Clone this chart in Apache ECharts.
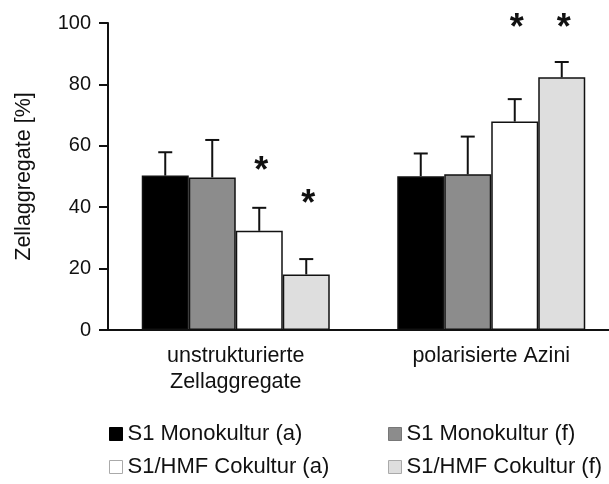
<!DOCTYPE html>
<html>
<head>
<meta charset="utf-8">
<script src="https://cdn.jsdelivr.net/npm/echarts@6/dist/echarts.min.js"></script>
<style>
  html, body { margin: 0; padding: 0; background: #fff; }
  #chart { width: 609px; height: 484px; }
</style>
</head>
<body>
<div id="chart"></div>
<script>
// Categories (x-axis groups)
var categories = ['unstrukturierte\nZellaggregate', 'polarisierte Azini'];

// Series names
var seriesNames = ['S1 Monokultur (a)', 'S1 Monokultur (f)', 'S1/HMF Cokultur (a)', 'S1/HMF Cokultur (f)'];

// Mean values per series (one per category)
var monoA = [50.3, 50.1];
var monoF = [49.7, 50.7];
var cokA  = [32.3, 67.9];
var cokF  = [18.1, 82.3];

// Upper error (value at top of error bar)
var monoAErr = [57.9, 57.5];
var monoFErr = [61.9, 63.0];
var cokAErr  = [39.8, 75.2];
var cokFErr  = [23.1, 87.3];

// Significance marks (height of asterisk, null = none)
var starsCokA = [53.5, 100];
var starsCokF = [42.7, 100];

// Y-axis ticks
var yMin = 0, yMax = 100, yStep = 20;

var fills = ['#000000', '#8c8c8c', '#ffffff', '#dedede'];
var legendBorders = ['#000000', '#777777', '#aaaaaa', '#aaaaaa'];
var means = [monoA, monoF, cokA, cokF];
var errs = [monoAErr, monoFErr, cokAErr, cokFErr];
var stars = [[null, null], [null, null], starsCokA, starsCokF];
var BAR_W = 47;
var FONT = 'Liberation Sans, Arial, sans-serif';

var series = [];
means.forEach(function (vals, i) {
  series.push({
    name: seriesNames[i],
    type: 'bar',
    data: vals,
    barWidth: BAR_W,
    barGap: '0%',
    itemStyle: { color: fills[i], borderColor: '#111', borderWidth: 1.5 },
    emphasis: { disabled: true },
    z: 2
  });
});

// Error bars drawn on top of each bar
means.forEach(function (vals, i) {
  var data = vals.map(function (v, c) { return [c, v, errs[i][c]]; });
  series.push({
    type: 'custom',
    data: data,
    z: 3,
    silent: true,
    renderItem: function (params, api) {
      var c = api.value(0);
      var base = api.coord([c, api.value(1)]);
      var top = api.coord([c, api.value(2)]);
      var x = base[0] + (i - 1.5) * BAR_W;
      var style = { stroke: '#111', lineWidth: 2 };
      return {
        type: 'group',
        children: [
          { type: 'line', shape: { x1: x, y1: base[1], x2: x, y2: top[1] }, style: style },
          { type: 'line', shape: { x1: x - 7, y1: top[1], x2: x + 7, y2: top[1] }, style: style }
        ]
      };
    }
  });
});

// Asterisks for significant differences
stars.forEach(function (vals, i) {
  var data = [];
  vals.forEach(function (v, c) { if (v !== null) data.push([c, v]); });
  if (!data.length) return;
  series.push({
    type: 'custom',
    data: data,
    z: 4,
    silent: true,
    clip: false,
    renderItem: function (params, api) {
      var p = api.coord([api.value(0), api.value(1)]);
      var x = p[0] + (i - 1.5) * BAR_W;
      return {
        type: 'text',
        style: {
          text: '*', x: x + 2, y: p[1] + 6,
          fontSize: 36, fontWeight: 'bold', fontFamily: FONT,
          fill: '#111', align: 'center', verticalAlign: 'middle'
        }
      };
    }
  });
});

// One legend block per entry, laid out in two columns
var legendText = { fontSize: 22, color: '#111', fontFamily: FONT };
var legendPos = [
  { left: 109, top: 423 },
  { left: 388, top: 423 },
  { left: 109, top: 456 },
  { left: 388, top: 456 }
];
var legends = seriesNames.map(function (name, i) {
  return {
    left: legendPos[i].left, top: legendPos[i].top, padding: 0,
    itemWidth: 13, itemHeight: 13, icon: 'rect',
    textStyle: legendText, selectedMode: false,
    data: [{ name: name, itemStyle: { borderColor: legendBorders[i], borderWidth: 1 } }]
  };
});

var chart = echarts.init(document.getElementById('chart'));
chart.setOption({
  animation: false,
  backgroundColor: '#fff',
  grid: { left: 108, top: 23, width: 511, height: 307, containLabel: false, outerBoundsMode: 'none' },
  xAxis: {
    type: 'category',
    data: categories,
    axisLine: { show: true, lineStyle: { color: '#111', width: 2 } },
    axisTick: { show: false },
    axisLabel: { fontSize: 21.5, color: '#111', fontFamily: FONT, margin: 13, lineHeight: 26 }
  },
  yAxis: {
    type: 'value',
    min: yMin, max: yMax, interval: yStep,
    name: 'Zellaggregate [%]',
    nameLocation: 'middle',
    nameGap: 73,
    nameTextStyle: { fontSize: 21.5, color: '#111', fontFamily: FONT },
    axisLine: { show: true, lineStyle: { color: '#111', width: 2 } },
    axisTick: { show: true, inside: false, length: 9, lineStyle: { color: '#111', width: 2 } },
    axisLabel: { fontSize: 20, color: '#111', fontFamily: FONT, margin: 17 },
    splitLine: { show: false }
  },
  legend: legends,
  series: series
});
</script>
</body>
</html>
